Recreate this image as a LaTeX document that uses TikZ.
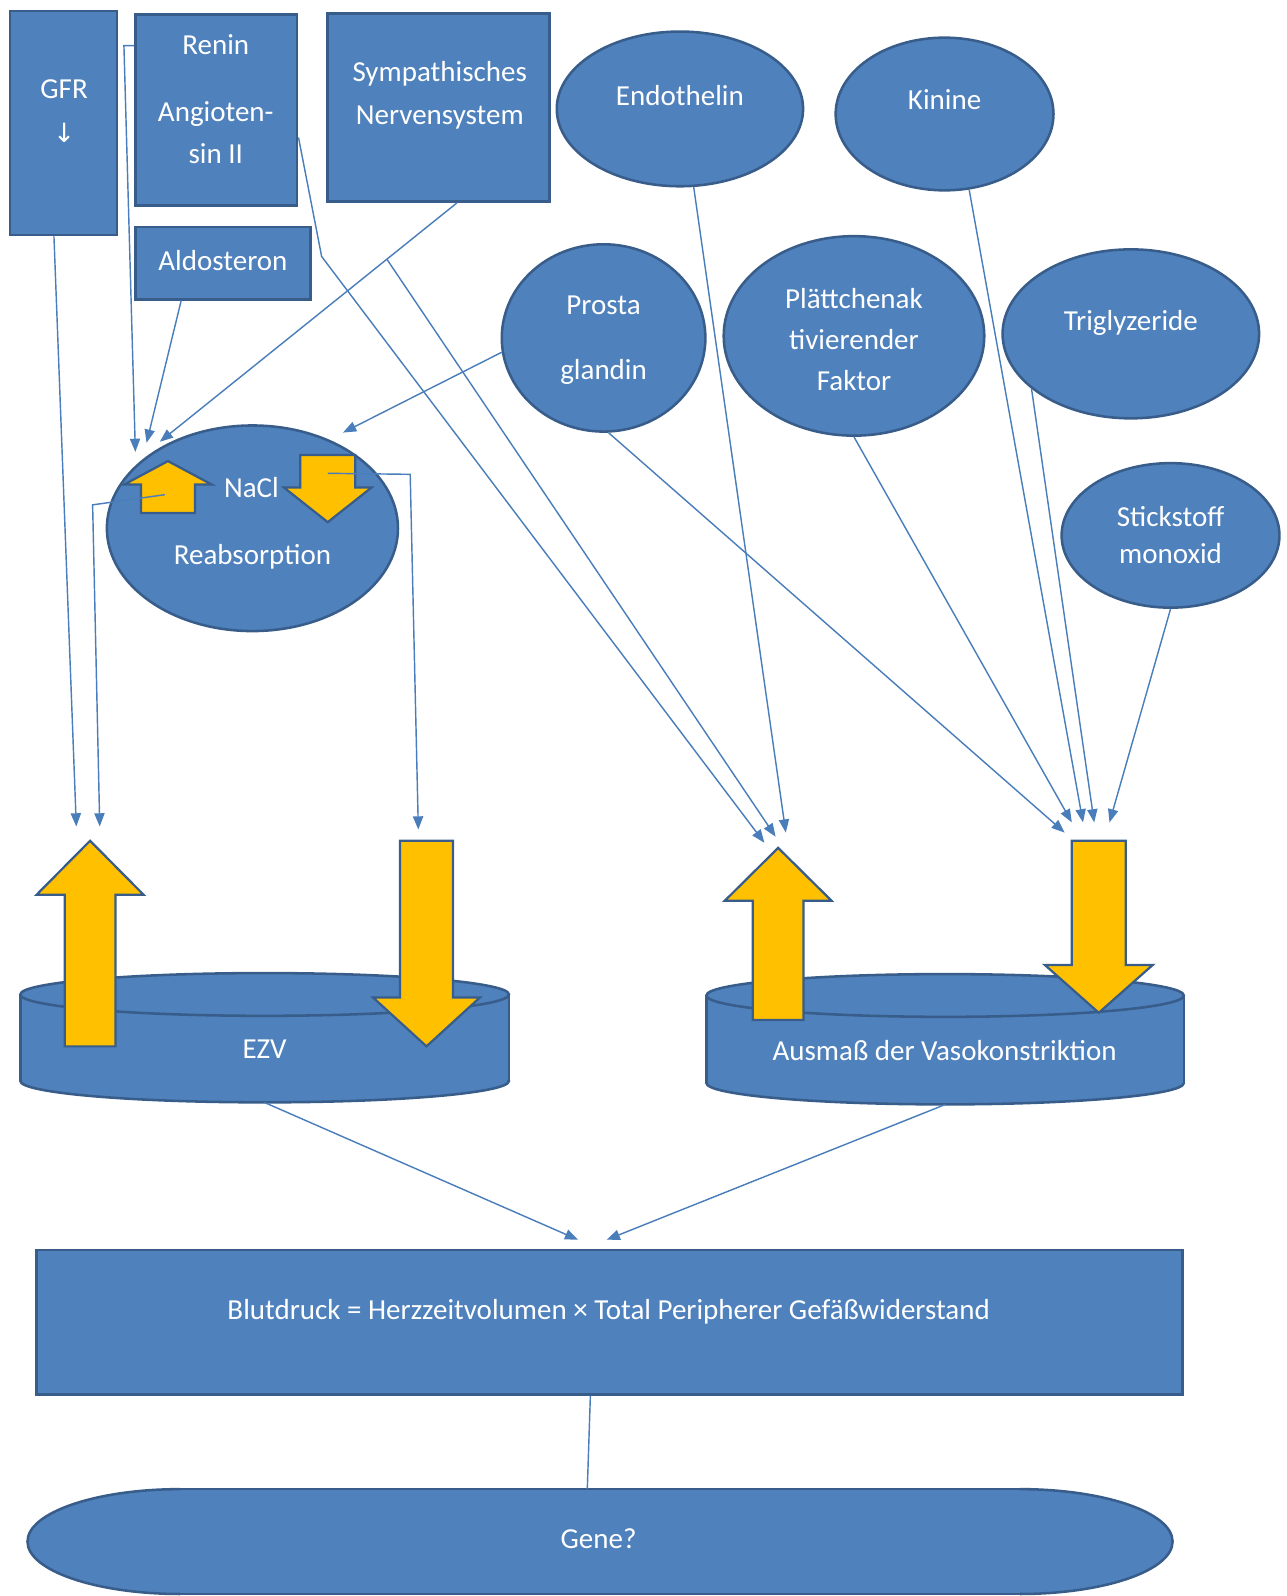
\documentclass[tikz,border=0pt]{standalone}
\usepackage{fontspec}
\setmainfont{Carlito}
\newfontfamily\dejavu{DejaVu Sans}
\usetikzlibrary{shapes.geometric,arrows.meta,calc}
\definecolor{bfill}{HTML}{4F81BD}
\definecolor{bdark}{HTML}{385D8A}
\definecolor{lblue}{HTML}{4A7EBB}
\definecolor{yel}{HTML}{FFC000}
\newcommand\mycyl[5]{%
 \fill[bfill] (#1,#3) rectangle (#2,#4);
 \fill[bfill] ({(#1+#2)/2},#4) ellipse [x radius={(#2-#1)/2}, y radius=#5];
 \draw[bdark,line width=2.5pt] (#1,#3) -- (#1,#4) (#2,#3) -- (#2,#4);
 \begin{scope}\clip (#1-5,#4) rectangle (#2+5,#4+#5+5);
 \draw[bdark,line width=2.5pt] ({(#1+#2)/2},#4) ellipse [x radius={(#2-#1)/2}, y radius=#5];\end{scope}
 \draw[bdark,line width=2.5pt,fill=bfill] ({(#1+#2)/2},#3) ellipse [x radius={(#2-#1)/2}, y radius=#5];}
\newcommand\blockarrow[6]{%
 \draw[yarr] (#1,#2) -- (#1+#3,#5) -- (#1+#4,#5) -- (#1+#4,#6) -- (#1-#4,#6) -- (#1-#4,#5) -- (#1-#3,#5) -- cycle;}
\begin{document}
\begin{tikzpicture}[x=1pt,y=-1pt,
 box/.style={rectangle, fill=bfill, draw=bdark, line width=2.5pt, inner sep=0pt},
 ell/.style={ellipse, fill=bfill, draw=bdark, line width=2.5pt, inner sep=0pt},
 lbl/.style={text=white, font=\fontsize{28.5}{33}\selectfont, inner sep=0pt, anchor=base},
 con/.style={draw=lblue, line width=1.4pt},
 arr/.style={con, -{Triangle[length=13pt,width=10pt]}},
 yarr/.style={fill=yel, draw=bdark, line width=2.2pt, line join=miter},
 hid/.style={inner sep=0pt, draw=none}]
\useasboundingbox (0,0) rectangle (1264,1568);
% boxes
\node[box, minimum width=105pt, minimum height=220pt] (gfr) at (62.5,121) {};
\node[box, minimum width=159pt, minimum height=188pt] (renin) at (212.5,108) {};
\node[box, minimum width=218pt, minimum height=185pt] (symp) at (431,105.5) {};
\node[box, minimum width=172pt, minimum height=71pt] (aldo) at (219,258.5) {};
\node[box, minimum width=1126pt, minimum height=142pt] (blut) at (599,1299) {};
% ellipses
\node[ell, minimum width=242pt, minimum height=152pt] (endo) at (668,107) {};
\node[ell, minimum width=214pt, minimum height=150pt] (kin) at (928,112) {};
\node[ell, minimum width=200pt, minimum height=184pt] (prosta) at (593,332) {};
\node[ell, minimum width=256pt, minimum height=196pt] (plt) at (839,330) {};
\node[ell, minimum width=252pt, minimum height=166pt] (tri) at (1111,328) {};
\node[ell, minimum width=214pt, minimum height=142pt] (stick) at (1150,526) {};
\node[ell, minimum width=286pt, minimum height=202pt] (nacl) at (248,519) {};
% cylinders
\mycyl{20}{500}{977}{1062}{21}
\mycyl{694}{1163}{978}{1064}{21}
\node[hid, minimum width=480pt, minimum height=126pt] (ezv) at (260,1020) {};
\node[hid, minimum width=469pt, minimum height=128pt] (vaso) at (928.5,1021) {};
% gene shape
\fill[bfill] (177,1463) rectangle (1002,1566);
\fill[bfill] (177,1514.5) ellipse [x radius=150, y radius=51.5];
\fill[bfill] (1002,1514.5) ellipse [x radius=150, y radius=51.5];
\draw[bdark,line width=2.5pt] (177,1463) -- (1002,1463) (177,1566) -- (1002,1566);
\begin{scope}\clip (0,1400) rectangle (177,1600);
\draw[bdark,line width=2.5pt] (177,1514.5) ellipse [x radius=150, y radius=51.5];\end{scope}
\begin{scope}\clip (1002,1400) rectangle (1264,1600);
\draw[bdark,line width=2.5pt] (1002,1514.5) ellipse [x radius=150, y radius=51.5];\end{scope}
\node[hid, minimum width=1125pt, minimum height=103pt] (gene) at (589.5,1514.5) {};
% yellow block arrows
\blockarrow{88.5}{826}{52.5}{25}{879}{1028}
\blockarrow{419}{1028}{52.5}{26}{980}{826}
\blockarrow{764.5}{833}{52.5}{25}{885}{1002}
\blockarrow{1079.5}{995}{53}{26.5}{948}{826}
\blockarrow{165}{453}{43}{26.5}{476}{504}
\blockarrow{322}{513}{43}{27}{479}{447}
% labels
\node[lbl] (l1) at (63,97) {GFR};
\node[text=white, inner sep=0pt, font={\dejavu\fontsize{26}{30}\selectfont}] (l2) at (63,131) {↓};
\node[lbl] (l3) at (212,54) {Renin};
\node[lbl] (l4) at (212,119) {Angioten-};
\node[lbl] (l5) at (212,161) {sin II};
\node[lbl] (l6) at (432,80) {Sympathisches};
\node[lbl] (l7) at (432,122) {Nervensystem};
\node[lbl] (l8) at (219,266) {Aldosteron};
\node[lbl] (l9) at (668,104) {Endothelin};
\node[lbl] (l10) at (928,108) {Kinine};
\node[lbl] (l11) at (593,309) {Prosta};
\node[lbl] (l12) at (593,373) {glandin};
\node[lbl] (l13) at (839,303) {Plättchenak};
\node[lbl] (l14) at (839,343) {tivierender};
\node[lbl] (l15) at (839,384) {Faktor};
\node[lbl] (l16) at (1111,325) {Triglyzeride};
\node[lbl] (l17) at (1150,517) {Stickstoff};
\node[lbl] (l18) at (1150,554) {monoxid};
\node[lbl] (l19) at (247,489) {NaCl};
\node[lbl] (l20) at (248,555) {Reabsorption};
\node[lbl] (l21) at (260,1040) {EZV};
\node[lbl] (l22) at (928,1042) {Ausmaß der Vasokonstriktion};
\node[lbl] (l23) at (598,1296) {Blutdruck = Herzzeitvolumen × Total Peripherer Gefäßwiderstand};
\node[lbl] (l24) at (588,1521) {Gene?};
% coordinates
\coordinate (tGFR) at (75,812);
\coordinate (tN1) at (98,812);
\coordinate (tN2) at (411,815);
\coordinate (tR) at (133,444);
\coordinate (tA) at (144,435);
\coordinate (tS) at (157,434);
\coordinate (tP) at (337,425);
\coordinate (tV1) at (751,828);
\coordinate (tV2) at (762,822);
\coordinate (tV3) at (772,818);
\coordinate (tW1) at (1046,818);
\coordinate (tW2) at (1053,808);
\coordinate (tW3) at (1064,808);
\coordinate (tW4) at (1075,808);
\coordinate (tW5) at (1090,808);
\coordinate (tB1) at (568,1218);
\coordinate (tB2) at (596,1218);
\coordinate (rbend) at (316,252);
\coordinate (naclup) at (162,486);
\coordinate (nacldn) at (322,465);
\coordinate (nl) at (91,496);
\coordinate (nr) at (403,466);
% connectors
\draw[arr] ($(gfr.south)+(-9.5,0)$) -- (tGFR);
\draw[arr] ($(renin.north west)+(0,32)$) -- ++(-10,0) -- (tR);
\draw[arr] ($(aldo.south)+(-41,0)$) -- (tA);
\coordinate (sS) at ($(symp.south)+(18,0)$);
\draw[arr] (sS) -- (tS);
\coordinate (sb) at ($(sS)!0.236!(tS)$);
\draw[arr] (sb) -- (tV2);
\draw[arr] ($(renin.east)+(0,27)$) -- (rbend) -- (tV1);
\draw[arr] (endo.-80) -- (tV3);
\draw[arr] (prosta.188) -- (tP);
\draw[arr] (prosta.-87) -- (tW1);
\draw[arr] (plt.south) -- (tW2);
\draw[arr] (kin.-72) -- (tW3);
\draw[arr] (tri.209) -- (tW4);
\draw[arr] (stick.south) -- (tW5);
\draw[arr] (naclup) -- (nl) -- (tN1);
\draw[arr] (nacldn) -- (nr) -- (tN2);
\draw[arr] (ezv.south) -- (tB1);
\draw[arr] (vaso.south) -- (tB2);
\draw[con] ($(blut.south)+(-19,0)$) -- ($(gene.north)+(-12.5,0)$);
\end{tikzpicture}
\end{document}
